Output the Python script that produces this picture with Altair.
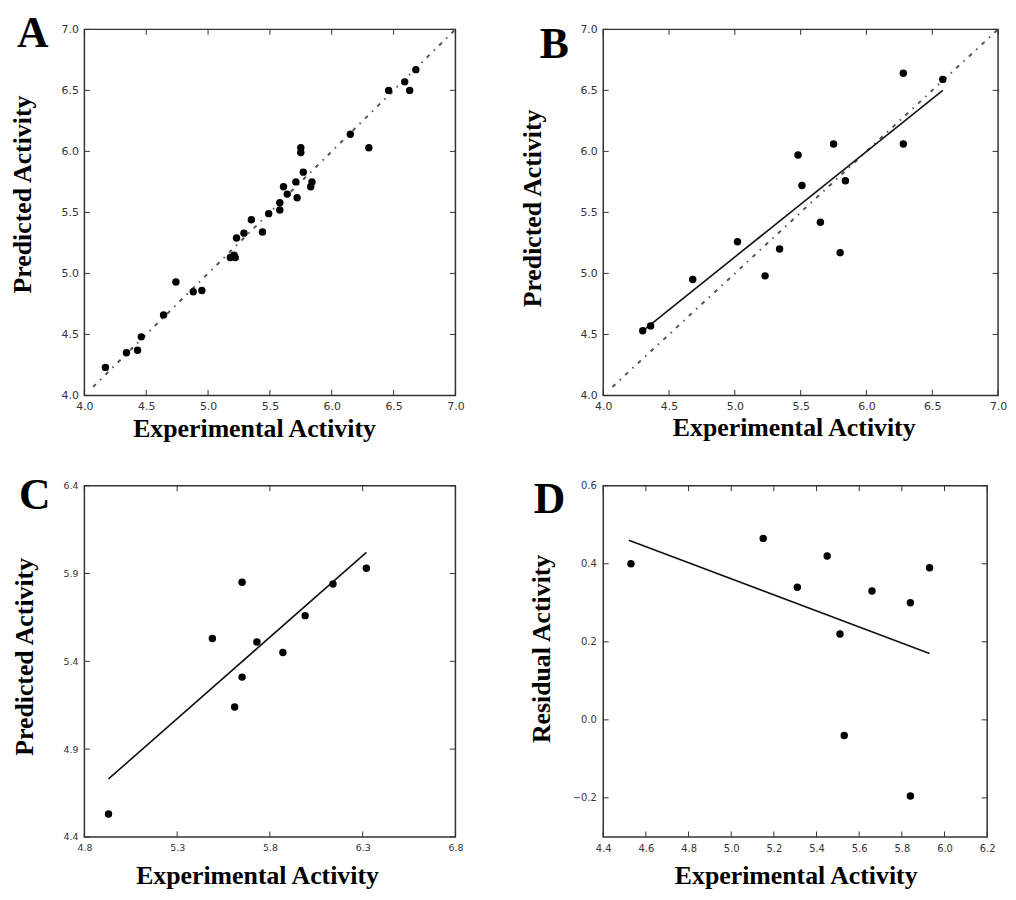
import altair as alt
import pandas as pd

# ---------------- data ----------------
A_x = [4.17, 4.34, 4.43, 4.46, 4.64, 4.74, 4.88, 4.95, 5.18, 5.21, 5.22, 5.23, 5.29,
       5.35, 5.44, 5.49, 5.58, 5.58, 5.61, 5.64, 5.71, 5.72, 5.75, 5.75, 5.77, 5.83,
       5.84, 6.15, 6.30, 6.46, 6.59, 6.63, 6.68]
A_y = [4.23, 4.35, 4.37, 4.48, 4.66, 4.93, 4.85, 4.86, 5.13, 5.15, 5.13, 5.29, 5.33,
       5.44, 5.34, 5.49, 5.52, 5.58, 5.71, 5.65, 5.75, 5.62, 6.03, 5.99, 5.83, 5.71,
       5.75, 6.14, 6.03, 6.50, 6.57, 6.50, 6.67]
A_diag_x = [4.07, 7.0]
A_diag_y = [4.07, 7.0]

B_x = [4.30, 4.36, 4.68, 5.02, 5.23, 5.34, 5.48, 5.51, 5.65, 5.75, 5.80, 5.84, 6.28, 6.28, 6.58]
B_y = [4.53, 4.57, 4.95, 5.26, 4.98, 5.20, 5.97, 5.72, 5.42, 6.06, 5.17, 5.76, 6.64, 6.06, 6.59]
B_diag_x = [4.07, 7.0]
B_diag_y = [4.07, 7.0]
B_fit_x = [4.30, 6.58]
B_fit_y = [4.53, 6.50]

C_x = [4.93, 5.49, 5.61, 5.65, 5.65, 5.73, 5.87, 5.99, 6.14, 6.32]
C_y = [4.53, 5.53, 5.14, 5.31, 5.85, 5.51, 5.45, 5.66, 5.84, 5.93]
C_fit_x = [4.93, 6.32]
C_fit_y = [4.73, 6.02]

D_x = [4.53, 5.15, 5.31, 5.45, 5.51, 5.53, 5.66, 5.84, 5.84, 5.93]
D_y = [0.40, 0.465, 0.34, 0.42, 0.22, -0.04, 0.33, 0.30, -0.195, 0.39]
D_fit_x = [4.52, 5.93]
D_fit_y = [0.46, 0.17]

AB_ticks = [4.0, 4.5, 5.0, 5.5, 6.0, 6.5, 7.0]
C_xticks = [4.8, 5.3, 5.8, 6.3, 6.8]
C_yticks = [4.4, 4.9, 5.4, 5.9, 6.4]
D_xticks = [4.4, 4.6, 4.8, 5.0, 5.2, 5.4, 5.6, 5.8, 6.0, 6.2]
D_yticks = [-0.2, 0.0, 0.2, 0.4, 0.6]

X_TITLE = "Experimental Activity"
SERIF = "Liberation Serif"
SANS = "DejaVu Sans"
TICK = 5.5


def panel(px, py, xticks, yticks, xdom, ydom, w, h, letter, ytitle, cfg,
          diag=None, fit=None):
    xs = alt.Scale(domain=xdom, nice=False, zero=False)
    ys = alt.Scale(domain=ydom, nice=False, zero=False)
    common = dict(ticks=False, domain=False, grid=False, labelFont=SANS,
                  labelFontSize=cfg["lfs"], labelColor="#333333",
                  labelFlush=False, labelOverlap=False, format=".1f",
                  titleFont=SERIF, titleFontSize=26, titleFontWeight="bold",
                  titleColor="black", titleBaseline="alphabetic",
                  titleAlign="center")
    xaxis = alt.Axis(values=xticks, title=X_TITLE, labelPadding=cfg["lpx"],
                     titleX=cfg["xtx"], titleY=cfg["xty"], **common)
    yaxis = alt.Axis(values=yticks, title=ytitle, labelPadding=cfg["lpy"],
                     titleX=cfg["ytx"], titleY=cfg["yty"], titleAngle=270,
                     **common)
    xenc = alt.X("x:Q", scale=xs, axis=xaxis)
    yenc = alt.Y("y:Q", scale=ys, axis=yaxis)

    layers = []
    if diag is not None:
        layers.append(
            alt.Chart(pd.DataFrame({"x": diag[0], "y": diag[1]}))
            .mark_line(color="#555555", strokeWidth=2, strokeDash=[4, 6, 1.5, 6])
            .encode(x=xenc, y=yenc)
        )
    if fit is not None:
        layers.append(
            alt.Chart(pd.DataFrame({"x": fit[0], "y": fit[1]}))
            .mark_line(color="#111111", strokeWidth=1.6)
            .encode(x=xenc, y=yenc)
        )
    layers.append(
        alt.Chart(pd.DataFrame({"x": px, "y": py}))
        .mark_circle(size=56, color="black", opacity=1)
        .encode(x=xenc, y=yenc)
    )
    xt = pd.DataFrame({"x": xticks})
    yt = pd.DataFrame({"y": yticks})
    tick_style = dict(color="#333333", strokeWidth=1)
    layers += [
        alt.Chart(xt).mark_rule(**tick_style).encode(
            x=xenc, y=alt.value(h), y2=alt.value(h - TICK)),
        alt.Chart(xt).mark_rule(**tick_style).encode(
            x=xenc, y=alt.value(0), y2=alt.value(TICK)),
        alt.Chart(yt).mark_rule(**tick_style).encode(
            y=yenc, x=alt.value(0), x2=alt.value(TICK)),
        alt.Chart(yt).mark_rule(**tick_style).encode(
            y=yenc, x=alt.value(w), x2=alt.value(w - TICK)),
    ]
    layers.append(
        alt.Chart(pd.DataFrame({"t": [letter]}))
        .mark_text(font=SERIF, fontSize=44, fontWeight="bold", align="left",
                   baseline="alphabetic", color="black")
        .encode(text="t:N", x=alt.value(cfg["lx"]), y=alt.value(cfg["ly"]))
    )
    return alt.layer(*layers).properties(width=w, height=h)


pA = panel(A_x, A_y, AB_ticks, AB_ticks, [4.0, 7.0], [4.0, 7.0], 374, 369, "A",
           "Predicted Activity",
           dict(lfs=11, lpx=5, lpy=6, xtx=171, xty=41, ytx=-54.5, yty=166,
                lx=-68, ly=18),
           diag=(A_diag_x, A_diag_y))
pB = panel(B_x, B_y, AB_ticks, AB_ticks, [4.0, 7.0], [4.0, 7.0], 398, 369, "B",
           "Predicted Activity",
           dict(lfs=11, lpx=5, lpy=6, xtx=192, xty=40, ytx=-63, yty=180,
                lx=-64, ly=29),
           diag=(B_diag_x, B_diag_y), fit=(B_fit_x, B_fit_y))
pC = panel(C_x, C_y, C_xticks, C_yticks, [4.8, 6.8], [4.4, 6.4], 374, 354, "C",
           "Predicted Activity",
           dict(lfs=9.5, lpx=6, lpy=6.5, xtx=174, xty=47, ytx=-52, yty=172,
                lx=-66, ly=23),
           fit=(C_fit_x, C_fit_y))
pD = panel(D_x, D_y, D_xticks, D_yticks, [4.4, 6.2], [-0.3, 0.6], 387, 354, "D",
           "Residual Activity",
           dict(lfs=10, lpx=7, lpy=7, xtx=194, xty=47, ytx=-54, yty=164,
                lx=-70, ly=28),
           fit=(D_fit_x, D_fit_y))

chart = (
    alt.concat(pA, pB, pC, pD, columns=2, bounds="flush",
               spacing={"row": 91, "column": 149})
    .properties(padding=0, background="white")
    .configure_view(stroke="#333333", strokeWidth=1.5)
)

chart.save("out.html", embed_options={"renderer": "svg", "actions": False})
